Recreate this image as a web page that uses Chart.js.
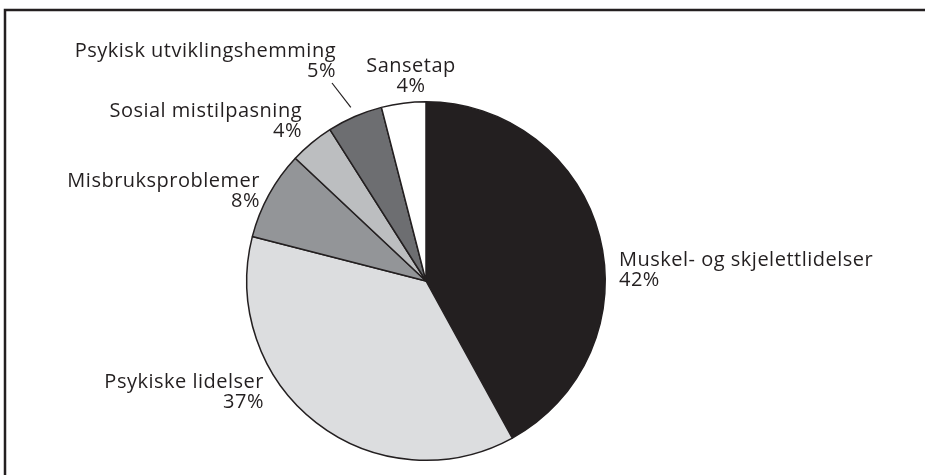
<!DOCTYPE html>
<html>
<head>
<meta charset="utf-8">
<script src="https://cdn.jsdelivr.net/npm/chart.js@4.4.0/dist/chart.umd.min.js"></script>
<style>
  html, body { margin: 0; padding: 0; background: #ffffff; }
  #wrap { width: 925px; height: 475px; position: relative; }
</style>
</head>
<body>
<div id="wrap"><canvas id="myChart" width="925" height="475"></canvas></div>
<script>
// data (percent)
const categories = ['Muskel- og skjelettlidelser', 'Psykiske lidelser', 'Misbruksproblemer',
    'Sosial mistilpasning', 'Psykisk utviklingshemming', 'Sansetap'];
const shares = [42, 37, 8, 4, 5, 4];
const sliceColors = ['#231f20', '#dcdddf', '#939598', '#bcbec0', '#6d6e71', '#ffffff'];

// label placement relative to pie centre: [dx, dy of first baseline, align]
const labelSpots = [
    [193, -15, 'left'],
    [-162, 107, 'right'],
    [-166, -94, 'right'],
    [-124, -164, 'right'],
    [-90, -224, 'right'],
    [-15, -209, 'center']
];

const frameAndLabels = {
    id: 'frameAndLabels',
    beforeDraw(chart) {
        const c = chart.ctx;
        c.save();
        c.strokeStyle = '#231f20';
        c.lineWidth = 2.5;
        c.strokeRect(5, 10, 1200, 1200);
        c.restore();
    },
    afterDatasetsDraw(chart) {
        const c = chart.ctx;
        const arcs = chart.getDatasetMeta(0).data;
        const cx = arcs[0].x, cy = arcs[0].y;
        c.save();
        c.fillStyle = '#231f20';
        c.font = '20px "Open Sans", sans-serif';
        c.letterSpacing = '0.5px';
        c.textBaseline = 'alphabetic';
        arcs.forEach((arc, i) => {
            const [dx, dy, align] = labelSpots[i];
            c.textAlign = align;
            c.fillText(categories[i], cx + dx, cy + dy);
            c.fillText(shares[i] + '%', cx + dx, cy + dy + 20);
        });
        // leader line for the small dark slice
        const a = arcs[4];
        const mid = (a.startAngle + a.endAngle) / 2;
        const r = a.outerRadius + 10;
        c.strokeStyle = '#231f20';
        c.lineWidth = 1.2;
        c.beginPath();
        c.moveTo(cx - 94, cy - 198);
        c.lineTo(cx + Math.cos(mid) * r, cy + Math.sin(mid) * r);
        c.stroke();
        c.restore();
    }
};

new Chart(document.getElementById('myChart').getContext('2d'), {
    type: 'pie',
    data: {
        labels: categories,
        datasets: [{
            data: shares,
            backgroundColor: sliceColors,
            borderColor: '#231f20',
            borderWidth: 1.5
        }]
    },
    options: {
        responsive: false,
        animation: false,
        layout: { padding: { top: 101, bottom: 14, left: 246, right: 319 } },
        plugins: {
            legend: { display: false },
            tooltip: { enabled: false }
        }
    },
    plugins: [frameAndLabels]
});
</script>
</body>
</html>
